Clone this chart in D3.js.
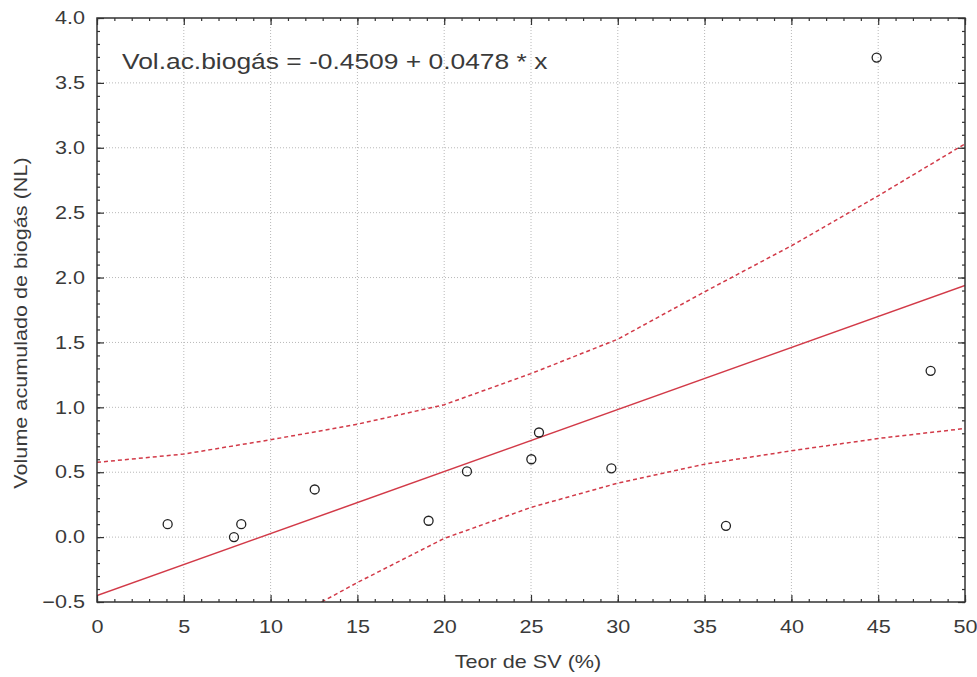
<!DOCTYPE html>
<html>
<head>
<meta charset="utf-8">
<script src="https://cdn.jsdelivr.net/npm/d3@7"></script>
<style>
  html, body { margin: 0; padding: 0; background: #fff; }
  svg { display: block; font-family: "Liberation Sans", Arial, sans-serif; }
</style>
</head>
<body>
<svg id="chart" width="977" height="677"></svg>
<script>
// ---- data ----
const teorSV = [4.07, 7.89, 8.31, 12.54, 19.1, 21.31, 25.02, 25.46, 29.63, 36.23, 44.91, 48.02];
const volBiogas = [0.10, 0.00, 0.10, 0.367, 0.126, 0.506, 0.60, 0.806, 0.53, 0.087, 3.695, 1.281];
const regIntercept = [-0.4509];
const regSlope = [0.0478];
const upperX = [0, 5, 10, 15, 20, 25, 30, 35, 40, 45, 50];
const upperY = [0.576, 0.64, 0.75, 0.87, 1.02, 1.26, 1.525, 1.89, 2.245, 2.63, 3.03];
const lowerX = [12.94, 15, 20, 25, 30, 35, 40, 45, 50];
const lowerY = [-0.5, -0.35, -0.01, 0.229, 0.416, 0.562, 0.665, 0.76, 0.837];
const xTicks = [0, 5, 10, 15, 20, 25, 30, 35, 40, 45, 50];
const yTicks = [-0.5, 0.0, 0.5, 1.0, 1.5, 2.0, 2.5, 3.0, 3.5, 4.0];
const xMinor = d3.range(0, 50.001, 1);
const yMinor = d3.range(-0.5, 4.0001, 0.1);
const equationText = "Vol.ac.biogás = -0.4509 + 0.0478 * x";
const xTitle = "Teor de SV (%)";
const yTitle = "Volume acumulado de biogás (NL)";

// ---- layout ----
const W = 977, H = 677;
const m = { left: 97, top: 18, right: 12, bottom: 75 };
const iw = W - m.left - m.right, ih = H - m.top - m.bottom;
const SX = 1.2; // horizontal stretch of the text, as in the reference image
const txtColor = "#3a3a3a";

const svg = d3.select("#chart");
const g = svg.append("g").attr("transform", `translate(${m.left},${m.top})`);

const x = d3.scaleLinear().domain([0, 50]).range([0, iw]);
const y = d3.scaleLinear().domain([-0.5, 4.0]).range([ih, 0]);

svg.append("defs").append("clipPath").attr("id", "clip")
  .append("rect").attr("width", iw).attr("height", ih);

// grid
const grid = g.append("g").attr("class", "grid");
grid.selectAll("line.vx").data(xTicks.slice(1, -1)).join("line")
  .attr("x1", d => x(d)).attr("x2", d => x(d)).attr("y1", 0).attr("y2", ih)
  .attr("stroke", "#b8b8b8").attr("stroke-width", 1).attr("stroke-dasharray", "1,2");
grid.selectAll("line.hy").data(yTicks.slice(1, -1)).join("line")
  .attr("y1", d => y(d)).attr("y2", d => y(d)).attr("x1", 0).attr("x2", iw)
  .attr("stroke", "#b8b8b8").attr("stroke-width", 1).attr("stroke-dasharray", "1,2");

// lines
const plot = g.append("g").attr("clip-path", "url(#clip)");
const red = "#d23a48";
plot.append("line")
  .attr("x1", x(0)).attr("y1", y(regIntercept[0] + regSlope[0] * 0))
  .attr("x2", x(50)).attr("y2", y(regIntercept[0] + regSlope[0] * 50))
  .attr("stroke", red).attr("stroke-width", 1.5);

const lineGen = d3.line().x(d => x(d[0])).y(d => y(d[1]));
plot.append("path").datum(d3.zip(upperX, upperY)).attr("d", lineGen)
  .attr("fill", "none").attr("stroke", red).attr("stroke-width", 1.5).attr("stroke-dasharray", "4,3");
plot.append("path").datum(d3.zip(lowerX, lowerY)).attr("d", lineGen)
  .attr("fill", "none").attr("stroke", red).attr("stroke-width", 1.5).attr("stroke-dasharray", "4,3");

// points
g.selectAll("circle.pt").data(d3.zip(teorSV, volBiogas)).join("circle")
  .attr("cx", d => x(d[0])).attr("cy", d => y(d[1])).attr("r", 4.5)
  .attr("fill", "none").attr("stroke", "#222").attr("stroke-width", 1.3);

// axes with inward ticks
const axColor = "#333";
function styleAxis(sel) {
  sel.select(".domain").remove();
  sel.selectAll("line").attr("stroke", axColor).attr("stroke-width", 1.2);
}
function stretchText(sel) {
  sel.selectAll("text").each(function () {
    const t = d3.select(this);
    const xv = +t.attr("x") || 0;
    t.attr("x", xv / SX).attr("transform", `scale(${SX},1)`)
     .attr("font-size", 18).attr("fill", txtColor)
     .attr("font-family", "'Liberation Sans', Arial, sans-serif");
  });
}
// bottom
g.append("g").attr("transform", `translate(0,${ih})`)
  .call(d3.axisBottom(x).tickValues(xMinor).tickSize(-3).tickFormat(""))
  .call(styleAxis);
g.append("g").attr("transform", `translate(0,${ih})`)
  .call(d3.axisBottom(x).tickValues(xTicks).tickSize(-7).tickPadding(18).tickFormat(d3.format("d")))
  .call(styleAxis).call(stretchText);
// top
g.append("g").call(d3.axisTop(x).tickValues(xMinor).tickSize(-3).tickFormat("")).call(styleAxis);
g.append("g").call(d3.axisTop(x).tickValues(xTicks).tickSize(-7).tickFormat("")).call(styleAxis);
// left
g.append("g").call(d3.axisLeft(y).tickValues(yMinor).tickSize(-3).tickFormat("")).call(styleAxis);
g.append("g")
  .call(d3.axisLeft(y).tickValues(yTicks).tickSize(-7).tickPadding(12).tickFormat(d3.format(".1f")))
  .call(styleAxis).call(stretchText);
// right
g.append("g").attr("transform", `translate(${iw},0)`)
  .call(d3.axisRight(y).tickValues(yMinor).tickSize(-3).tickFormat("")).call(styleAxis);
g.append("g").attr("transform", `translate(${iw},0)`)
  .call(d3.axisRight(y).tickValues(yTicks).tickSize(-7).tickFormat("")).call(styleAxis);

// frame
g.append("rect").attr("width", iw).attr("height", ih)
  .attr("fill", "none").attr("stroke", axColor).attr("stroke-width", 1.5);

// equation
g.append("text").attr("transform", `translate(25,51) scale(${SX},1)`)
  .attr("font-size", 22).attr("fill", txtColor).text(equationText);

// titles
svg.append("text").attr("transform", `translate(${m.left + iw / 2 - 3},668) scale(${SX},1)`)
  .attr("text-anchor", "middle").attr("font-size", 18).attr("fill", txtColor).text(xTitle);
svg.append("text").attr("transform", `translate(27,${m.top + ih / 2 + 13}) rotate(-90) scale(${SX},1)`)
  .attr("text-anchor", "middle").attr("font-size", 18).attr("fill", txtColor).text(yTitle);
</script>
</body>
</html>
